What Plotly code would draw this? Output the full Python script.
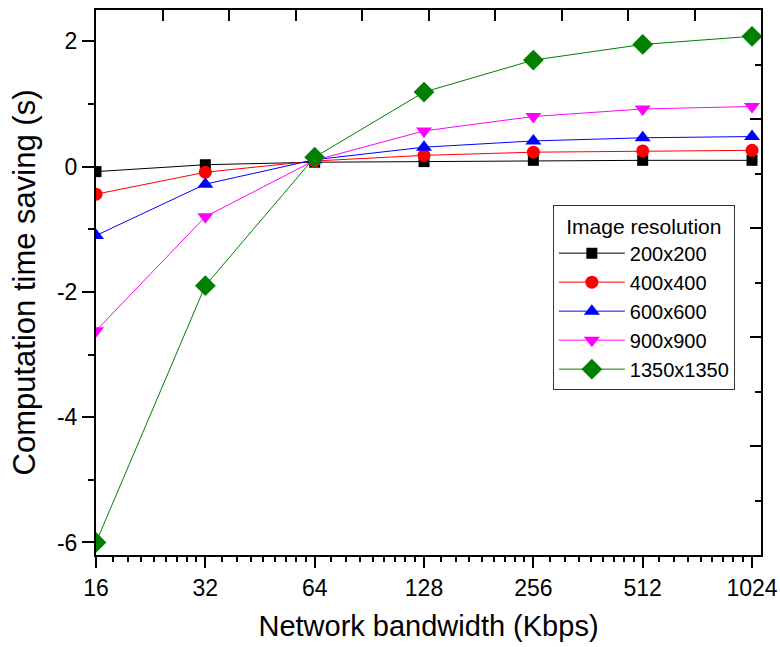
import math
import plotly.graph_objects as go

bandwidth = [16, 32, 64, 128, 256, 512, 1024]
x_tick_labels = ["16", "32", "64", "128", "256", "512", "1024"]
y_tick_values = [-6, -4, -2, 0, 2]
y_tick_labels = ["-6", "-4", "-2", "0", "2"]

res_200 = [-0.08, 0.03, 0.07, 0.08, 0.10, 0.10, 0.10]
res_400 = [-0.44, -0.09, 0.09, 0.18, 0.23, 0.25, 0.26]
res_600 = [-1.10, -0.28, 0.11, 0.31, 0.41, 0.46, 0.48]
res_900 = [-2.62, -0.80, 0.10, 0.57, 0.80, 0.92, 0.96]
res_1350 = [-6.00, -1.90, 0.15, 1.19, 1.70, 1.95, 2.08]

series_names = ["200x200", "400x400", "600x600", "900x900", "1350x1350"]
series_values = [res_200, res_400, res_600, res_900, res_1350]
colors = ["#000000", "#FF0000", "#0000FF", "#FF00FF", "#008000"]
symbols = ["square", "circle", "triangle-up", "triangle-down", "diamond"]
sizes = [11, 13, 14, 14, 16]

FONT = "Liberation Sans, Arial, sans-serif"

fig = go.Figure()
for name, vals, c, s, sz in zip(series_names, series_values, colors, symbols, sizes):
    fig.add_trace(go.Scatter(
        x=bandwidth, y=vals, name=name, mode="lines+markers",
        line=dict(color=c, width=1),
        marker=dict(symbol=s, size=sz, color=c, line=dict(width=0)),
        cliponaxis=True,
    ))

# placeholder (a single gap, draws nothing) so that the top/right frame axes exist
fig.add_trace(go.Scatter(x=[None], y=[None], xaxis="x2", yaxis="y2", mode="lines",
                         showlegend=False, hoverinfo="skip"))

# minor ticks: 8 linear steps inside each octave
minor_x = []
for a in bandwidth[:-1]:
    for k in range(1, 9):
        minor_x.append(a + a * k / 9)

fig.update_layout(
    width=780, height=647,
    margin=dict(l=96, r=19, t=10, b=92),
    paper_bgcolor="white", plot_bgcolor="white",
    font=dict(family=FONT, size=23, color="black"),
    showlegend=True,
    legend=dict(
        title=dict(text="Image resolution", font=dict(size=21), side="top center"),
        font=dict(size=20),
        x=0.687, y=0.6416, xanchor="left", yanchor="top",
        bordercolor="#333333", borderwidth=1, bgcolor="white",
        tracegroupgap=0, itemwidth=66,
    ),
    xaxis=dict(
        type="log", automargin=False,
        range=[math.log10(16), math.log10(2 ** 10.082)],
        tickmode="array", tickvals=bandwidth, ticktext=x_tick_labels,
        ticks="outside", ticklen=11, tickwidth=2, tickcolor="black",
        showline=True, linewidth=2, linecolor="black",
        showgrid=False, zeroline=False,
        minor=dict(tickmode="array", tickvals=minor_x, ticks="outside",
                   ticklen=5, tickwidth=2, tickcolor="black", showgrid=False),
        title=dict(text="Network bandwidth (Kbps)", font=dict(size=29), standoff=16),
        tickfont=dict(size=23),
    ),
    yaxis=dict(
        range=[-6.2, 2.5], automargin=False,
        tickmode="array", tickvals=y_tick_values, ticktext=y_tick_labels,
        ticks="outside", ticklen=12, tickwidth=2, tickcolor="black",
        showline=True, linewidth=2, linecolor="black",
        showgrid=False, zeroline=False,
        minor=dict(dtick=1, tick0=0, ticks="outside", ticklen=6, tickwidth=2,
                   tickcolor="black", showgrid=False),
        title=dict(text="Computation time saving (s)", font=dict(size=31), standoff=12),
        tickfont=dict(size=23),
    ),
    xaxis2=dict(
        overlaying="x", side="top", anchor="y2", range=[0, 10], automargin=False,
        tickmode="linear", tick0=0, dtick=1,
        ticks="inside", ticklen=11, tickwidth=2, tickcolor="black",
        showline=True, linewidth=2, linecolor="black",
        showticklabels=False, showgrid=False, zeroline=False,
    ),
    yaxis2=dict(
        overlaying="y", side="right", anchor="x2", range=[0, 10], automargin=False,
        tickmode="linear", tick0=0, dtick=2,
        ticks="inside", ticklen=11, tickwidth=2, tickcolor="black",
        showline=True, linewidth=2, linecolor="black",
        showticklabels=False, showgrid=False, zeroline=False,
        minor=dict(dtick=1, tick0=0, ticks="inside", ticklen=6, tickwidth=2,
                   tickcolor="black", showgrid=False),
    ),
)

# write with zero page margin so the figure sits at the window's top-left corner
div = fig.to_html(full_html=False, include_plotlyjs=True,
                  config={"displayModeBar": False})
html = ("<!DOCTYPE html><html><head><meta charset='utf-8'>"
        "<style>html,body{margin:0;padding:0;overflow:hidden;background:white;}</style>"
        "</head><body>" + div + "</body></html>")
with open("out.html", "w", encoding="utf-8") as f:
    f.write(html)
